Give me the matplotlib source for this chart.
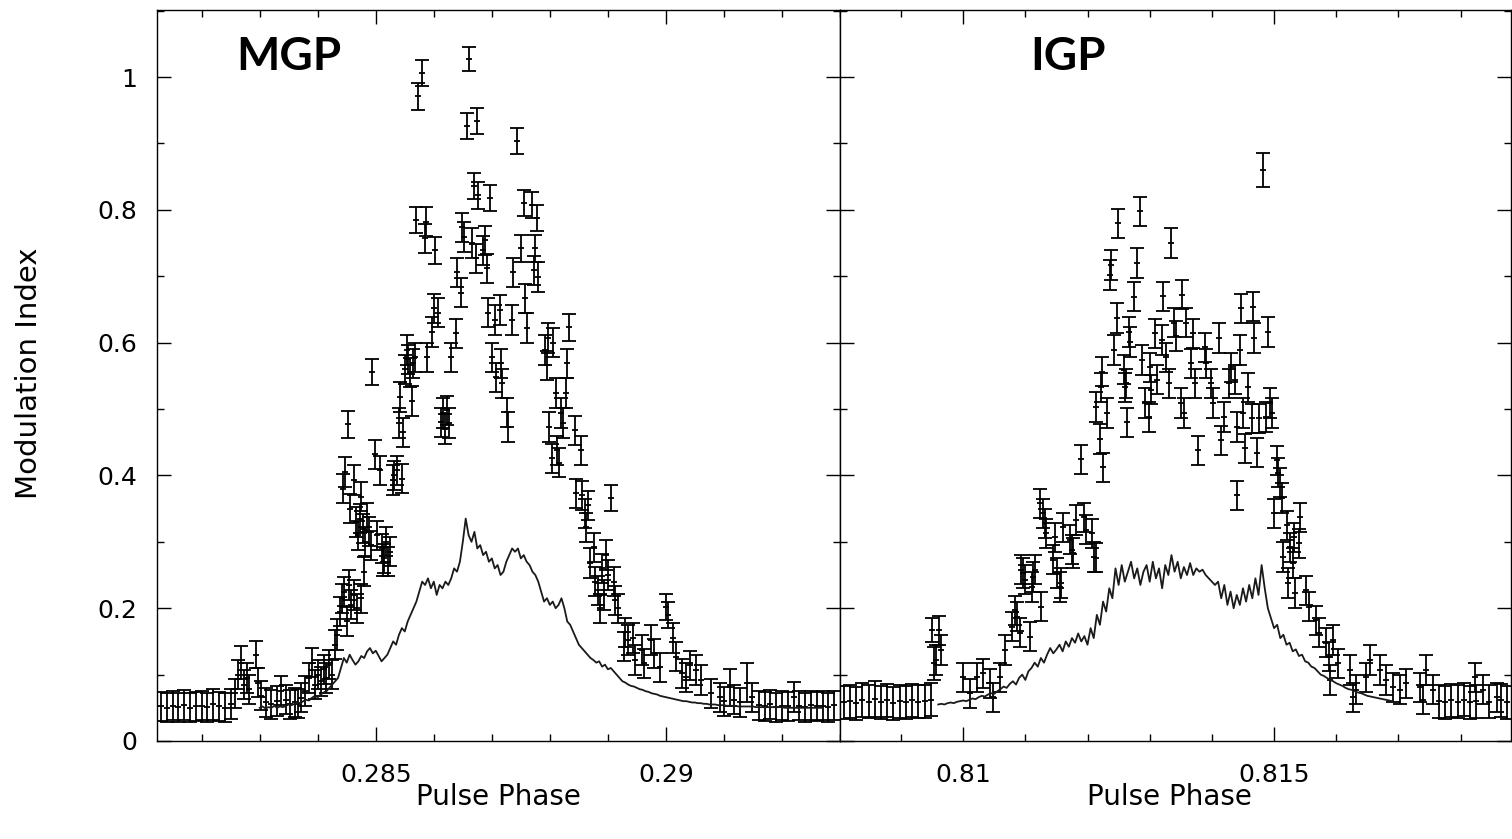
import matplotlib
matplotlib.use('Agg')
import matplotlib.pyplot as plt
from matplotlib.ticker import MultipleLocator, FuncFormatter
import numpy as np

# MGP: modulation index per phase bin (value, 1-sigma error)
mgp_phase = [0.28130, 0.28140, 0.28150, 0.28160, 0.28170, 0.28180, 0.28190, 0.28200,
             0.28210, 0.28220, 0.28230, 0.28240, 0.28250, 0.28258, 0.28262, 0.28268,
             0.28273, 0.28278, 0.28282, 0.28293, 0.28297, 0.28302, 0.28310, 0.28320,
             0.28330, 0.28337, 0.28345, 0.28352, 0.28360, 0.28366, 0.28372, 0.28378,
             0.28385, 0.28390, 0.28395, 0.28400, 0.28405, 0.28410, 0.28415, 0.28420,
             0.28425, 0.28430, 0.28434, 0.28438, 0.28442, 0.28446, 0.28450, 0.28454,
             0.28458, 0.28463, 0.28468, 0.28474, 0.28480, 0.28512, 0.28443, 0.28447,
             0.28452, 0.28456, 0.28463, 0.28466, 0.28470, 0.28473, 0.28475, 0.28478,
             0.28482, 0.28485, 0.28488, 0.28492, 0.28494, 0.28499, 0.28502, 0.28507,
             0.28510, 0.28514, 0.28518, 0.28521, 0.28525, 0.28529, 0.28532, 0.28537,
             0.28540, 0.28542, 0.28545, 0.28547, 0.28550, 0.28553, 0.28556, 0.28559,
             0.28562, 0.28564, 0.28567, 0.28570, 0.28572, 0.28580, 0.28585, 0.28587,
             0.28589, 0.28597, 0.28600, 0.28602, 0.28608, 0.28612, 0.28615, 0.28620,
             0.28623, 0.28627, 0.28629, 0.28639, 0.28640, 0.28647, 0.28649, 0.28652,
             0.28658, 0.28661, 0.28665, 0.28670, 0.28673, 0.28675, 0.28677, 0.28685,
             0.28688, 0.28691, 0.28694, 0.28697, 0.28700, 0.28706, 0.28708, 0.28714,
             0.28716, 0.28718, 0.28726, 0.28728, 0.28734, 0.28736, 0.28743, 0.28750,
             0.28755, 0.28758, 0.28760, 0.28770, 0.28772, 0.28775, 0.28778, 0.28780,
             0.28792, 0.28795, 0.28797, 0.28799, 0.28804, 0.28806, 0.28810, 0.28813,
             0.28815, 0.28820, 0.28823, 0.28828, 0.28830, 0.28833, 0.28843, 0.28845,
             0.28853, 0.28855, 0.28860, 0.28862, 0.28865, 0.28870, 0.28876, 0.28878,
             0.28883, 0.28886, 0.28890, 0.28893, 0.28897, 0.28900, 0.28905, 0.28910,
             0.28913, 0.28918, 0.28928, 0.28930, 0.28935, 0.28943, 0.28946, 0.28958,
             0.28963, 0.28975, 0.28980, 0.28990, 0.29000, 0.29003, 0.29012, 0.29018,
             0.29027, 0.29035, 0.29042, 0.29052, 0.29060, 0.29077, 0.29094, 0.29100,
             0.29111, 0.29118, 0.29128, 0.29140, 0.29148, 0.29160, 0.29170, 0.29180,
             0.29190, 0.29200, 0.29210, 0.29220, 0.29230, 0.29240, 0.29250, 0.29260,
             0.29270, 0.29280, 0.29290]
mgp_mi = [0.052, 0.050, 0.053, 0.051, 0.054, 0.050, 0.052, 0.053,
          0.051, 0.055, 0.052, 0.050, 0.056, 0.072, 0.100, 0.118,
          0.085, 0.095, 0.078, 0.130, 0.088, 0.068, 0.058, 0.055,
          0.060, 0.076, 0.062, 0.055, 0.058, 0.056, 0.065, 0.075,
          0.095, 0.118, 0.085, 0.100, 0.090, 0.108, 0.095, 0.115,
          0.100, 0.145, 0.160, 0.195, 0.215, 0.225, 0.180, 0.235,
          0.205, 0.220, 0.200, 0.215, 0.255, 0.270, 0.380, 0.405,
          0.477, 0.350, 0.393, 0.330, 0.310, 0.335, 0.368, 0.320,
          0.300, 0.337, 0.315, 0.295, 0.556, 0.432, 0.310, 0.408,
          0.290, 0.275, 0.300, 0.270, 0.285, 0.393, 0.400, 0.408,
          0.479, 0.518, 0.395, 0.465, 0.560, 0.589, 0.575, 0.555,
          0.512, 0.569, 0.578, 0.785, 0.971, 1.006, 0.757, 0.782,
          0.578, 0.616, 0.652, 0.739, 0.645, 0.480, 0.494, 0.470,
          0.498, 0.479, 0.578, 0.614, 0.706, 0.675, 0.774, 0.759,
          0.926, 1.027, 0.750, 0.836, 0.727, 0.934, 0.822, 0.739,
          0.754, 0.712, 0.645, 0.818, 0.578, 0.634, 0.548, 0.649,
          0.569, 0.539, 0.495, 0.473, 0.634, 0.706, 0.904, 0.742,
          0.810, 0.667, 0.622, 0.807, 0.709, 0.742, 0.788, 0.699,
          0.589, 0.566, 0.607, 0.473, 0.426, 0.600, 0.524, 0.438,
          0.419, 0.494, 0.479, 0.524, 0.569, 0.623, 0.468, 0.373,
          0.438, 0.370, 0.343, 0.322, 0.355, 0.268, 0.292, 0.240,
          0.227, 0.200, 0.260, 0.220, 0.280, 0.250, 0.366, 0.240,
          0.212, 0.200, 0.142, 0.164, 0.152, 0.155, 0.122, 0.137,
          0.117, 0.152, 0.132, 0.111, 0.202, 0.190, 0.155, 0.127,
          0.102, 0.096, 0.114, 0.107, 0.092, 0.072, 0.066, 0.060,
          0.081, 0.062, 0.058, 0.088, 0.066, 0.054, 0.052, 0.055,
          0.051, 0.053, 0.052, 0.066, 0.053, 0.051, 0.054, 0.052,
          0.053, 0.051, 0.054]
mgp_err = [0.022, 0.022, 0.022, 0.022, 0.023, 0.022, 0.022, 0.022,
           0.022, 0.023, 0.022, 0.022, 0.023, 0.022, 0.022, 0.025,
           0.022, 0.022, 0.022, 0.020, 0.022, 0.022, 0.022, 0.022,
           0.023, 0.022, 0.022, 0.022, 0.022, 0.022, 0.022, 0.023,
           0.022, 0.022, 0.022, 0.022, 0.022, 0.022, 0.023, 0.022,
           0.022, 0.022, 0.023, 0.022, 0.022, 0.022, 0.022, 0.022,
           0.022, 0.022, 0.022, 0.022, 0.022, 0.022, 0.022, 0.022,
           0.020, 0.022, 0.022, 0.022, 0.022, 0.022, 0.022, 0.022,
           0.022, 0.022, 0.022, 0.022, 0.020, 0.022, 0.022, 0.022,
           0.022, 0.022, 0.022, 0.022, 0.022, 0.022, 0.022, 0.022,
           0.022, 0.022, 0.022, 0.022, 0.022, 0.022, 0.022, 0.022,
           0.022, 0.022, 0.022, 0.020, 0.020, 0.020, 0.022, 0.022,
           0.022, 0.022, 0.022, 0.020, 0.022, 0.022, 0.022, 0.022,
           0.022, 0.022, 0.022, 0.022, 0.022, 0.022, 0.022, 0.022,
           0.020, 0.018, 0.022, 0.020, 0.022, 0.020, 0.020, 0.022,
           0.022, 0.022, 0.022, 0.020, 0.022, 0.022, 0.022, 0.022,
           0.022, 0.022, 0.022, 0.022, 0.022, 0.022, 0.020, 0.020,
           0.020, 0.022, 0.022, 0.020, 0.022, 0.020, 0.020, 0.022,
           0.022, 0.022, 0.022, 0.022, 0.022, 0.022, 0.022, 0.022,
           0.022, 0.022, 0.022, 0.022, 0.022, 0.020, 0.022, 0.022,
           0.022, 0.022, 0.022, 0.022, 0.022, 0.022, 0.022, 0.022,
           0.022, 0.022, 0.022, 0.022, 0.022, 0.022, 0.020, 0.022,
           0.022, 0.022, 0.022, 0.022, 0.022, 0.022, 0.022, 0.022,
           0.022, 0.022, 0.022, 0.022, 0.020, 0.020, 0.022, 0.022,
           0.022, 0.022, 0.022, 0.022, 0.022, 0.022, 0.022, 0.022,
           0.028, 0.022, 0.022, 0.030, 0.022, 0.022, 0.022, 0.022,
           0.022, 0.022, 0.022, 0.023, 0.022, 0.022, 0.022, 0.022,
           0.022, 0.022, 0.022]

# MGP mean profile (scaled), bins of 0.00005 starting at 0.28300
mgp_prof_start = 0.28300
mgp_prof = [0.050, 0.052, 0.049, 0.051, 0.050, 0.053, 0.050, 0.052, 0.051, 0.053,
            0.055, 0.054, 0.056, 0.058, 0.057, 0.060, 0.062, 0.061, 0.065, 0.068,
            0.066, 0.070, 0.073, 0.075, 0.080, 0.085, 0.090, 0.095, 0.110, 0.125,
            0.118, 0.130, 0.122, 0.115, 0.120, 0.128, 0.125, 0.135, 0.140, 0.132,
            0.136, 0.128, 0.120, 0.125, 0.130, 0.140, 0.150, 0.145, 0.160, 0.170,
            0.165, 0.180, 0.190, 0.200, 0.210, 0.225, 0.240, 0.235, 0.245, 0.230,
            0.240, 0.220, 0.235, 0.230, 0.240, 0.235, 0.245, 0.260, 0.255, 0.270,
            0.300, 0.335, 0.310, 0.300, 0.315, 0.290, 0.295, 0.280, 0.285, 0.270,
            0.275, 0.260, 0.265, 0.250, 0.255, 0.270, 0.280, 0.290, 0.285, 0.290,
            0.275, 0.280, 0.270, 0.265, 0.255, 0.250, 0.240, 0.225, 0.210, 0.215,
            0.205, 0.210, 0.200, 0.205, 0.215, 0.200, 0.180, 0.175, 0.165, 0.155,
            0.145, 0.140, 0.135, 0.130, 0.125, 0.122, 0.118, 0.120, 0.112, 0.115,
            0.108, 0.110, 0.105, 0.100, 0.095, 0.090, 0.088, 0.085, 0.083, 0.082,
            0.080, 0.078, 0.077, 0.075, 0.074, 0.072, 0.071, 0.070, 0.068, 0.067,
            0.066, 0.065, 0.064, 0.063, 0.062, 0.061, 0.060, 0.060, 0.059, 0.058,
            0.058, 0.057, 0.057, 0.056, 0.056, 0.055, 0.055, 0.055, 0.054, 0.054,
            0.054, 0.053, 0.053, 0.053, 0.053, 0.052, 0.052, 0.052, 0.052, 0.052,
            0.052, 0.051, 0.051, 0.051, 0.051, 0.051, 0.051, 0.051, 0.051, 0.051,
            0.051, 0.050, 0.050, 0.050, 0.050, 0.050, 0.050, 0.050, 0.050, 0.050,
            0.050, 0.050, 0.050, 0.050, 0.050]

# IGP: modulation index per phase bin
igp_phase = [0.80808, 0.80818, 0.80828, 0.80838, 0.80848, 0.80858, 0.80868, 0.80878,
             0.80888, 0.80898, 0.80908, 0.80918, 0.80928, 0.80938, 0.80948, 0.80950,
             0.80953, 0.80957, 0.80962, 0.80965, 0.81000, 0.81011, 0.81022, 0.81032,
             0.81043, 0.81048, 0.81059, 0.81067, 0.81078, 0.81083, 0.81086, 0.81091,
             0.81093, 0.81096, 0.81100, 0.81107, 0.81110, 0.81112, 0.81115, 0.81123,
             0.81126, 0.81128, 0.81131, 0.81134, 0.81145, 0.81148, 0.81151, 0.81156,
             0.81158, 0.81161, 0.81172, 0.81175, 0.81177, 0.81182, 0.81190, 0.81195,
             0.81198, 0.81207, 0.81210, 0.81213, 0.81214, 0.81220, 0.81222, 0.81224,
             0.81225, 0.81231, 0.81236, 0.81238, 0.81243, 0.81247, 0.81249, 0.81259,
             0.81260, 0.81262, 0.81264, 0.81267, 0.81269, 0.81274, 0.81279, 0.81284,
             0.81288, 0.81293, 0.81299, 0.81300, 0.81302, 0.81308, 0.81311, 0.81319,
             0.81321, 0.81326, 0.81331, 0.81334, 0.81339, 0.81342, 0.81350, 0.81352,
             0.81355, 0.81358, 0.81366, 0.81370, 0.81373, 0.81378, 0.81389, 0.81391,
             0.81399, 0.81401, 0.81412, 0.81414, 0.81419, 0.81427, 0.81430, 0.81437,
             0.81440, 0.81441, 0.81445, 0.81447, 0.81450, 0.81453, 0.81458, 0.81464,
             0.81466, 0.81468, 0.81472, 0.81476, 0.81482, 0.81487, 0.81490, 0.81494,
             0.81496, 0.81500, 0.81505, 0.81507, 0.81509, 0.81512, 0.81514, 0.81520,
             0.81522, 0.81526, 0.81530, 0.81532, 0.81534, 0.81540, 0.81542, 0.81552,
             0.81556, 0.81568, 0.81572, 0.81583, 0.81588, 0.81590, 0.81595, 0.81603,
             0.81622, 0.81627, 0.81632, 0.81648, 0.81654, 0.81670, 0.81680, 0.81691,
             0.81702, 0.81712, 0.81734, 0.81739, 0.81744, 0.81755, 0.81765, 0.81775,
             0.81785, 0.81795, 0.81805, 0.81815, 0.81823, 0.81825, 0.81836, 0.81845,
             0.81858, 0.81865, 0.81875]
igp_mi = [0.058, 0.060, 0.057, 0.062, 0.059, 0.063, 0.058, 0.061,
          0.057, 0.060, 0.058, 0.061, 0.059, 0.060, 0.062, 0.167,
          0.117, 0.122, 0.167, 0.137, 0.096, 0.072, 0.096, 0.102,
          0.087, 0.066, 0.096, 0.137, 0.172, 0.197, 0.187, 0.163,
          0.258, 0.253, 0.243, 0.157, 0.232, 0.247, 0.258, 0.358,
          0.202, 0.343, 0.328, 0.313, 0.273, 0.307, 0.253, 0.232,
          0.238, 0.322, 0.303, 0.288, 0.283, 0.333, 0.424, 0.337,
          0.318, 0.313, 0.277, 0.276, 0.503, 0.455, 0.533, 0.556,
          0.412, 0.494, 0.702, 0.717, 0.589, 0.637, 0.780, 0.559,
          0.533, 0.539, 0.480, 0.616, 0.601, 0.669, 0.720, 0.798,
          0.574, 0.509, 0.488, 0.563, 0.529, 0.614, 0.544, 0.604,
          0.670, 0.578, 0.539, 0.750, 0.630, 0.610, 0.509, 0.672,
          0.494, 0.630, 0.569, 0.614, 0.539, 0.438, 0.593, 0.569,
          0.539, 0.509, 0.607, 0.453, 0.488, 0.539, 0.563, 0.544,
          0.473, 0.370, 0.589, 0.652, 0.494, 0.441, 0.533, 0.486,
          0.654, 0.607, 0.434, 0.486, 0.860, 0.488, 0.616, 0.509,
          0.494, 0.343, 0.423, 0.404, 0.389, 0.366, 0.277, 0.325,
          0.238, 0.292, 0.268, 0.307, 0.223, 0.298, 0.337, 0.227,
          0.202, 0.182, 0.163, 0.148, 0.127, 0.092, 0.152, 0.117,
          0.107, 0.066, 0.077, 0.096, 0.122, 0.107, 0.092, 0.081,
          0.077, 0.087, 0.081, 0.062, 0.107, 0.077, 0.060, 0.058,
          0.061, 0.059, 0.062, 0.058, 0.096, 0.060, 0.077, 0.059,
          0.066, 0.061, 0.058]
igp_err = [0.025, 0.025, 0.025, 0.026, 0.025, 0.027, 0.025, 0.025,
           0.025, 0.025, 0.025, 0.025, 0.025, 0.025, 0.025, 0.018,
           0.025, 0.022, 0.022, 0.022, 0.022, 0.022, 0.022, 0.022,
           0.022, 0.022, 0.022, 0.022, 0.022, 0.022, 0.022, 0.022,
           0.022, 0.022, 0.022, 0.022, 0.022, 0.022, 0.022, 0.022,
           0.022, 0.022, 0.022, 0.022, 0.022, 0.022, 0.022, 0.022,
           0.022, 0.022, 0.022, 0.022, 0.022, 0.022, 0.022, 0.022,
           0.022, 0.022, 0.022, 0.022, 0.022, 0.022, 0.022, 0.022,
           0.022, 0.022, 0.022, 0.022, 0.022, 0.022, 0.022, 0.022,
           0.022, 0.022, 0.022, 0.022, 0.022, 0.022, 0.022, 0.022,
           0.022, 0.022, 0.022, 0.022, 0.022, 0.022, 0.022, 0.022,
           0.022, 0.022, 0.022, 0.022, 0.022, 0.022, 0.022, 0.022,
           0.022, 0.022, 0.022, 0.022, 0.022, 0.022, 0.022, 0.022,
           0.022, 0.022, 0.022, 0.022, 0.022, 0.022, 0.022, 0.022,
           0.022, 0.022, 0.022, 0.022, 0.022, 0.022, 0.022, 0.022,
           0.022, 0.022, 0.022, 0.022, 0.025, 0.022, 0.022, 0.022,
           0.022, 0.022, 0.022, 0.022, 0.022, 0.022, 0.022, 0.022,
           0.022, 0.022, 0.022, 0.022, 0.022, 0.022, 0.022, 0.022,
           0.022, 0.022, 0.022, 0.022, 0.022, 0.022, 0.022, 0.022,
           0.022, 0.022, 0.022, 0.022, 0.022, 0.022, 0.022, 0.022,
           0.022, 0.022, 0.022, 0.022, 0.023, 0.022, 0.025, 0.025,
           0.025, 0.025, 0.025, 0.025, 0.022, 0.025, 0.022, 0.025,
           0.022, 0.025, 0.025]

# IGP mean profile (scaled), bins of 0.00005 starting at 0.80960
igp_prof_start = 0.80960
igp_prof = [0.055, 0.056, 0.055, 0.057, 0.058, 0.057, 0.059, 0.060, 0.061, 0.060,
            0.062, 0.064, 0.063, 0.066, 0.068, 0.067, 0.070, 0.072, 0.071, 0.075,
            0.078, 0.082, 0.080, 0.086, 0.090, 0.085, 0.095, 0.100, 0.092, 0.105,
            0.110, 0.118, 0.112, 0.125, 0.118, 0.130, 0.140, 0.132, 0.138, 0.145,
            0.135, 0.150, 0.142, 0.155, 0.148, 0.162, 0.150, 0.158, 0.145, 0.170,
            0.155, 0.190, 0.175, 0.210, 0.195, 0.230, 0.215, 0.260, 0.235, 0.265,
            0.240, 0.255, 0.270, 0.245, 0.260, 0.235, 0.255, 0.265, 0.240, 0.270,
            0.245, 0.260, 0.230, 0.265, 0.250, 0.280, 0.255, 0.270, 0.245, 0.262,
            0.250, 0.268, 0.250, 0.260, 0.255, 0.258, 0.250, 0.245, 0.240, 0.235,
            0.240, 0.215, 0.235, 0.205, 0.225, 0.200, 0.220, 0.205, 0.230, 0.210,
            0.235, 0.215, 0.245, 0.220, 0.265, 0.230, 0.200, 0.185, 0.170, 0.175,
            0.155, 0.160, 0.145, 0.148, 0.135, 0.138, 0.128, 0.130, 0.120, 0.118,
            0.112, 0.110, 0.105, 0.100, 0.098, 0.095, 0.092, 0.090, 0.087, 0.085,
            0.083, 0.080, 0.078, 0.077, 0.075, 0.073, 0.072, 0.070, 0.068, 0.067,
            0.066, 0.065, 0.064, 0.063, 0.062, 0.061, 0.060]

prof_step = 0.00005
panels = [
    ('MGP', mgp_phase, mgp_mi, mgp_err, mgp_prof_start, mgp_prof, (0.28123, 0.29300), [0.285, 0.29]),
    ('IGP', igp_phase, igp_mi, igp_err, igp_prof_start, igp_prof, (0.80802, 0.81881), [0.81, 0.815]),
]

W, H = 1512, 839
fig = plt.figure(figsize=(W / 100, H / 100), dpi=100)
ax_l = fig.add_axes([157 / W, 1 - 741 / H, (840 - 157) / W, 731 / H])
ax_r = fig.add_axes([840 / W, 1 - 741 / H, (1511 - 840) / W, 731 / H])
label_pos = [(0.193, 498), (0.340, 1169)]

for ax, (name, ph, mi, err, p0, prof, xlim, xmaj), (tx, xc) in zip([ax_l, ax_r], panels, label_pos):
    ax.errorbar(ph, mi, yerr=err, fmt='_', color='black', ms=5, mew=1.3,
                elinewidth=1.3, capsize=4.7, capthick=1.3, zorder=2)
    prof_phase = p0 + prof_step * np.arange(len(prof))
    ax.plot(prof_phase, prof, color='#1a1a1a', lw=1.3, zorder=3)
    ax.set_xlim(*xlim)
    ax.set_ylim(0, 1.101)
    ax.set_xticks(xmaj)
    ax.xaxis.set_minor_locator(MultipleLocator(0.001))
    ax.yaxis.set_major_locator(MultipleLocator(0.2))
    ax.yaxis.set_minor_locator(MultipleLocator(0.1))
    ax.xaxis.set_major_formatter(FuncFormatter(lambda v, p: '%g' % round(v, 4)))
    ax.yaxis.set_major_formatter(FuncFormatter(lambda v, p: '%g' % round(v, 2)))
    ax.tick_params(which='both', direction='in', top=True, right=True, labelsize=18, width=1.0)
    ax.tick_params(which='major', length=10)
    ax.tick_params(which='minor', length=5)
    ax.tick_params(axis='x', pad=16)
    ax.tick_params(axis='y', pad=14)
    for s in ax.spines.values():
        s.set_linewidth(1.0)
    ax.text(tx, 0.936, name, transform=ax.transAxes, ha='center', va='center',
            fontsize=33, fontweight='bold', family='Lato')
    fig.text(xc / W, 1 - 797 / H, 'Pulse Phase', ha='center', va='center', fontsize=20)

ax_r.tick_params(axis='y', labelleft=False)
fig.text(29 / W, 1 - 373 / H, 'Modulation Index', rotation=90, ha='center', va='center', fontsize=21)

fig.savefig('out.png', dpi=100)
